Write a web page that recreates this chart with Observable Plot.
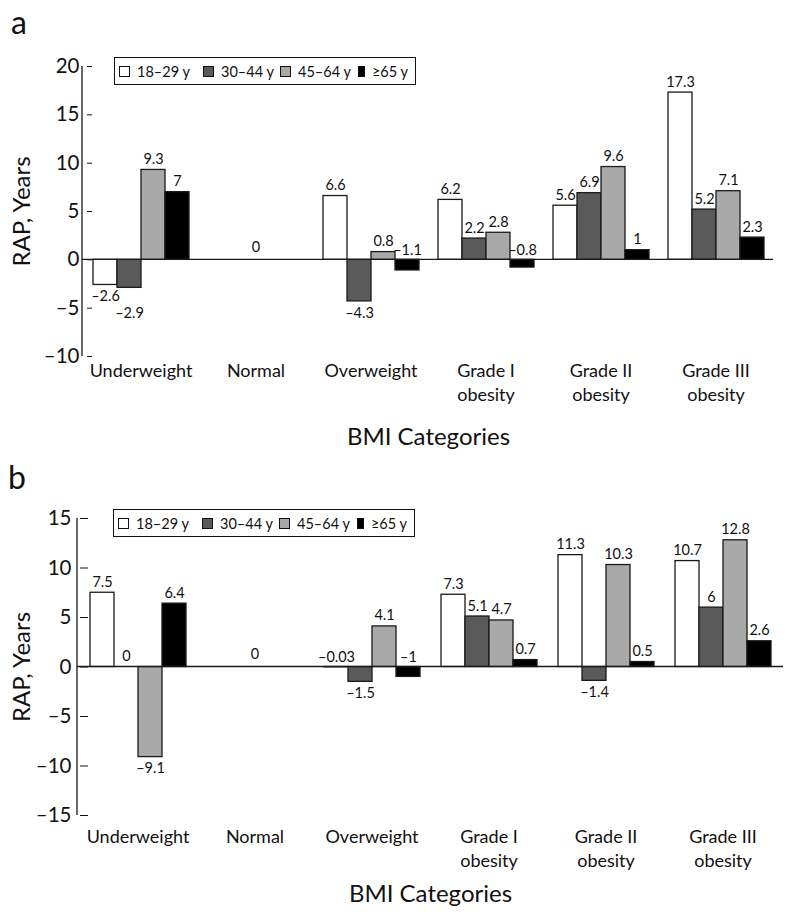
<!DOCTYPE html>
<html><head><meta charset="utf-8">
<script src="https://cdn.jsdelivr.net/npm/d3@7"></script>
<script src="https://cdn.jsdelivr.net/npm/@observablehq/plot@0.6"></script>
<style>
body{margin:0;background:#fff;font-family:Lato,"Open Sans",sans-serif;color:#111;}
.panel{position:relative;width:785px;}
.plabel{position:absolute;font-size:32px;line-height:1;}
.legend{position:absolute;border:1.6px solid #111;display:flex;align-items:center;font-size:14.5px;box-sizing:border-box;background:#fff;white-space:nowrap;}
.item{display:flex;align-items:center;}
.sw{display:inline-block;width:11px;height:11px;border:1px solid #111;box-sizing:border-box;margin-right:7px;}
svg{overflow:visible;}
</style></head><body>
<div id="pa" class="panel"></div>
<div id="pb" class="panel"></div>
<script>
const FONT = "Lato, 'Open Sans', sans-serif";
const categories = ["Underweight", "Normal", "Overweight", "Grade I\nobesity", "Grade II\nobesity", "Grade III\nobesity"];
const ageGroups = ["18–29 y", "30–44 y", "45–64 y", "≥65 y"];
const ageColors = ["#ffffff", "#5a5a5a", "#a9a9a9", "#000000"];

// Panel a values (one array per age group, in category order)
const a_18_29 = [-2.6, 0, 6.6, 6.2, 5.6, 17.3];
const a_30_44 = [-2.9, 0, -4.3, 2.2, 6.9, 5.2];
const a_45_64 = [9.3, 0, 0.8, 2.8, 9.6, 7.1];
const a_65plus = [7, 0, -1.1, -0.8, 1, 2.3];
// Panel b values
const b_18_29 = [7.5, 0, -0.03, 7.3, 11.3, 10.7];
const b_30_44 = [0, 0, -1.5, 5.1, -1.4, 6];
const b_45_64 = [-9.1, 0, 4.1, 4.7, 10.3, 12.8];
const b_65plus = [6.4, 0, -1, 0.7, 0.5, 2.6];

const aTicks = [-10, -5, 0, 5, 10, 15, 20];
const bTicks = [-15, -10, -5, 0, 5, 10, 15];

const fmt = v => (v < 0 ? "–" : "") + Math.abs(v);

function rowsOf(series) {
  const rows = [];
  series.forEach((vals, j) => vals.forEach((v, i) => rows.push({cat: categories[i], age: ageGroups[j], value: v, prev: j > 0 ? series[j - 1][i] : null})));
  return rows;
}

function makeLegend(el, left, top, width, height) {
  const lg = document.createElement("div");
  lg.className = "legend";
  Object.assign(lg.style, {left: left + "px", top: top + "px", width: width + "px", height: height + "px", paddingLeft: "4px"});
  const widths = [84, 77, 78, 50];
  ageGroups.forEach((g, i) => {
    const it = document.createElement("div");
    it.className = "item";
    it.style.width = widths[i] + "px";
    const sw = document.createElement("span");
    sw.className = "sw";
    sw.style.background = ageColors[i];
    it.appendChild(sw);
    it.appendChild(document.createTextNode(g));
    lg.appendChild(it);
  });
  el.appendChild(lg);
}

function makePanel(el, letter, rows, yDomain, ticks, d) {
  const labelRows = rows.filter(r => r.cat !== "Normal");
  const TH = -1.2;
  const positive = labelRows.filter(r => r.value >= 0);
  const smallNeg = labelRows.filter(r => r.value < 0 && r.value > TH);
  const below = labelRows.filter(r => r.value <= TH && !(r.prev != null && r.prev <= TH));
  const belowStag = labelRows.filter(r => r.value <= TH && r.prev != null && r.prev <= TH);
  const stroke = "#1a1a1a";
  const fs = 14.5;
  const plot = Plot.plot({
    width: 785, height: d.height,
    marginLeft: d.ml, marginRight: d.mr, marginTop: d.mt, marginBottom: d.mb,
    style: {fontFamily: FONT, background: "transparent", color: "#111"},
    fx: {domain: categories, paddingInner: 0.157, paddingOuter: 0.0785},
    x: {domain: ageGroups, padding: 0, axis: null},
    y: {domain: yDomain},
    color: {domain: ageGroups, range: ageColors},
    marks: [
      Plot.barY(rows, {fx: "cat", x: "age", y: "value", fill: "age", stroke, strokeWidth: 1.3}),
      Plot.text(positive, {fx: "cat", x: "age", y: "value", text: r => fmt(r.value), lineAnchor: "bottom", dy: -6, fontSize: fs, fill: "#111"}),
      Plot.text(smallNeg, {fx: "cat", x: "age", y: () => 0, text: r => fmt(r.value), lineAnchor: "bottom", dy: -5, fontSize: fs, fill: "#111"}),
      Plot.text(below, {fx: "cat", x: "age", y: "value", text: r => fmt(r.value), lineAnchor: "top", dy: 6, fontSize: fs, fill: "#111"}),
      Plot.text(belowStag, {fx: "cat", x: "age", y: "value", text: r => fmt(r.value), lineAnchor: "top", dy: 20, fontSize: fs, fill: "#111"}),
      Plot.text([{cat: "Normal", value: 0}], {fx: "cat", y: "value", text: r => fmt(r.value), lineAnchor: "bottom", dy: -8, fontSize: fs, fill: "#111"}),
      Plot.axisY({ticks, tickSize: d.ts, tickPadding: d.tp, fontSize: 20.5, tickFormat: fmt, label: null}),
      Plot.axisY({ticks: [], tickSize: 0, fontSize: 24, label: "RAP, Years", labelArrow: "none", labelAnchor: "center", labelOffset: d.ylo}),
      Plot.axisFx({anchor: "bottom", tickSize: 0, tickPadding: d.fxpad, fontSize: 18, lineHeight: 1.3, label: null}),
      Plot.axisFx({anchor: "bottom", ticks: [], tickSize: 0, fontSize: 24, label: "BMI Categories", labelArrow: "none", labelAnchor: "center", labelOffset: d.xlo})
    ]
  });
  // zero line across all facets and y-axis domain line, placed with the plot's own y scale
  const ys = plot.scale("y");
  const svg = d3.select(plot);
  svg.append("line")
    .attr("x1", d.ml).attr("x2", 785 - d.mr)
    .attr("y1", ys.apply(0)).attr("y2", ys.apply(0))
    .attr("stroke", stroke).attr("stroke-width", 1.3);
  svg.append("line")
    .attr("x1", d.ml).attr("x2", d.ml)
    .attr("y1", ys.apply(yDomain[1])).attr("y2", ys.apply(yDomain[0]))
    .attr("stroke", stroke).attr("stroke-width", 1.3);
  el.appendChild(plot);
  const lab = document.createElement("div");
  lab.className = "plabel";
  lab.textContent = letter;
  Object.assign(lab.style, {left: d.lx + "px", top: d.ly + "px"});
  el.appendChild(lab);
}

makePanel(document.getElementById("pa"), "a", rowsOf([a_18_29, a_30_44, a_45_64, a_65plus]), [-10, 20], aTicks,
  {height: 455, ml: 82, mr: 12, mt: 66, mb: 99, ylo: 80, xlo: 88, fxpad: 4, ts: 5, tp: 8, lx: 11, ly: 6});
makeLegend(document.getElementById("pa"), 114, 57, 302, 28);

makePanel(document.getElementById("pb"), "b", rowsOf([b_18_29, b_30_44, b_45_64, b_65plus]), [-15, 15], bTicks,
  {height: 457, ml: 77, mr: 2, mt: 63, mb: 97, ylo: 76, xlo: 86, fxpad: 11, ts: 8, tp: 9, lx: 8, ly: 6});
makeLegend(document.getElementById("pb"), 113, 54, 302, 28);
</script>
</body></html>
